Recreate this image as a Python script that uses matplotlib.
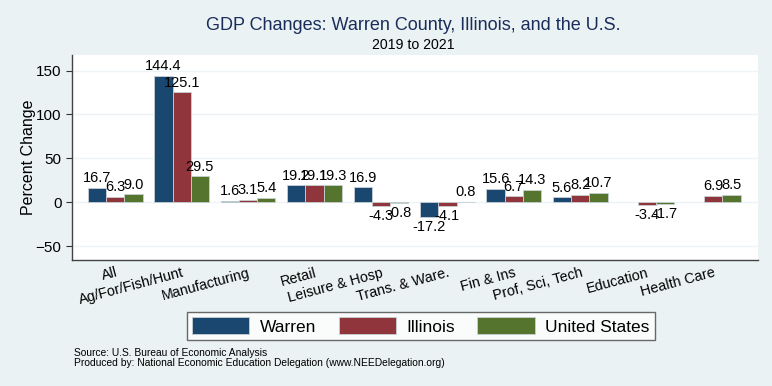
import matplotlib.pyplot as plt
import numpy as np

plt.rcParams["font.family"] = ["Liberation Sans", "DejaVu Sans"]

categories = ["All", "Ag/For/Fish/Hunt", "Manufacturing", "Retail", "Leisure & Hosp",
              "Trans. & Ware.", "Fin & Ins", "Prof, Sci, Tech", "Education", "Health Care"]
warren = [16.7, 144.4, 1.6, 19.2, 16.9, -17.2, 15.6, 5.6, np.nan, np.nan]
illinois = [6.3, 125.1, 3.1, 19.1, -4.3, -4.1, 6.7, 8.2, -3.4, 6.9]
us = [9.0, 29.5, 5.4, 19.3, -0.8, 0.8, 14.3, 10.7, -1.7, 8.5]

series = [("Warren", warren, "#1a476f"),
          ("Illinois", illinois, "#90353b"),
          ("United States", us, "#55752f")]

bg = "#eaf2f3"
fig = plt.figure(figsize=(7.72, 3.86), dpi=100, facecolor=bg)
ax = fig.add_axes([0.0933, 0.326, 0.889, 0.532])
ax.set_facecolor("white")

x = np.arange(len(categories))
w = 0.275
for i, (name, vals, col) in enumerate(series):
    pos = x + (i - 1) * w
    ax.bar(pos, vals, w, color=col, edgecolor="#c8d0d3", linewidth=0.6,
           label=name, zorder=3)
    for xp, v in zip(pos, vals):
        if np.isnan(v):
            continue
        if v >= 0:
            ax.annotate(f"{v:.1f}", (xp, v), xytext=(0, 2), textcoords="offset points",
                        ha="center", va="bottom", fontsize=10.5, zorder=4)
        else:
            ax.annotate(f"{v:.1f}", (xp, v), xytext=(0, -2), textcoords="offset points",
                        ha="center", va="top", fontsize=10.5, zorder=4)

ax.set_xlim(-0.65, 9.68)
ax.set_ylim(-66, 168)
ax.set_yticks([-50, 0, 50, 100, 150])
ax.yaxis.grid(True, color="#eef4f5", linewidth=1.0, zorder=0)
ax.set_axisbelow(True)
ax.set_xticks(x)
ax.set_xticklabels(categories, rotation=15, ha="right", rotation_mode="anchor", fontsize=10.3)
ax.tick_params(axis="x", length=0, pad=4)
ax.tick_params(axis="y", labelsize=11, length=4, color="#333333")
ax.set_ylabel("Percent Change", fontsize=11.5, labelpad=0)

for s in ["top", "right"]:
    ax.spines[s].set_visible(False)
for s in ["left", "bottom"]:
    ax.spines[s].set_color("#444444")
    ax.spines[s].set_linewidth(1.0)

fig.text(0.535, 0.935, "GDP Changes: Warren County, Illinois, and the U.S.",
         ha="center", va="center", fontsize=13, color="#1a2d5a")
fig.text(0.535, 0.883, "2019 to 2021", ha="center", va="center", fontsize=10.2)

leg = fig.legend(loc="center", bbox_to_anchor=(0.545, 1 - 326 / 386), ncol=3,
                 fontsize=12.5, frameon=True, fancybox=False,
                 edgecolor="#444444", handlelength=3.3, handleheight=1.1,
                 columnspacing=1.3, handletextpad=0.6, borderpad=0.3)
leg.get_frame().set_linewidth(1.0)

fig.text(0.096, 1 - 353 / 386, "Source: U.S. Bureau of Economic Analysis",
         fontsize=7.4, va="center")
fig.text(0.096, 1 - 363 / 386,
         "Produced by: National Economic Education Delegation (www.NEEDelegation.org)",
         fontsize=7.4, va="center")

fig.savefig("out.png", dpi=100, facecolor=bg)
